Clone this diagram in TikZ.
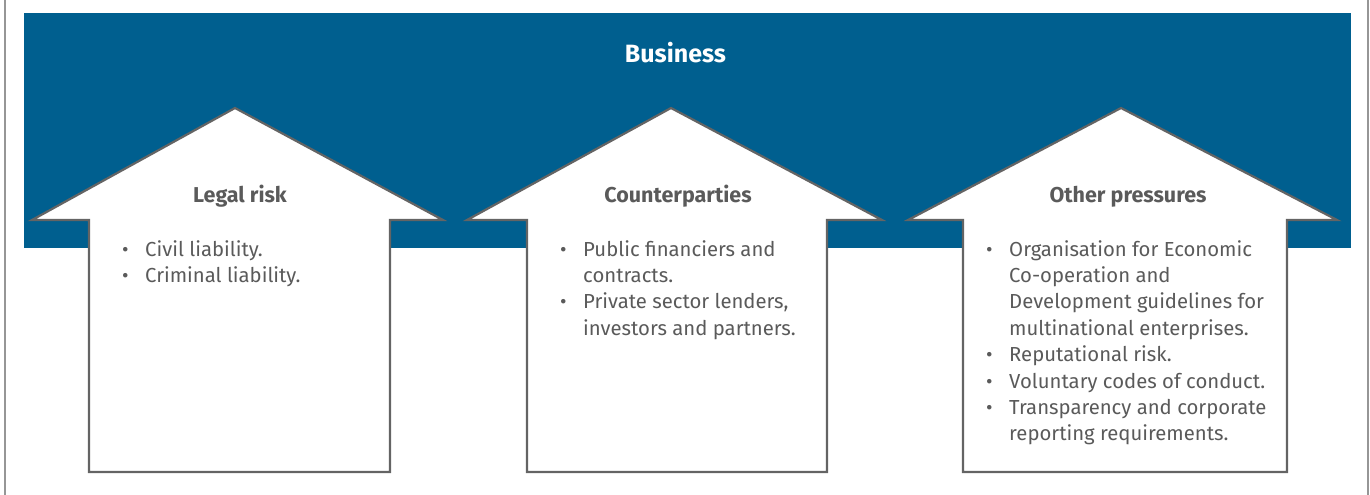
\documentclass[tikz,border=0pt]{standalone}
\usepackage{fontspec}
\setmainfont{Fira Sans}

\definecolor{bizblue}{RGB}{0,95,143}
\definecolor{txtgray}{RGB}{90,90,90}
\definecolor{edgegray}{RGB}{100,100,100}
\definecolor{framegray}{RGB}{150,150,150}

% one bullet entry, hanging under its first word
\newcommand{\bitem}{\par\hangindent=23pt\hangafter=1\noindent
  \makebox[23pt][l]{\fontsize{20}{20}\selectfont\textbullet}}
\newcommand{\bulletlist}[1]{\parbox[t]{310pt}{\raggedright#1}}

\begin{document}
\begin{tikzpicture}[x=1pt,y=-1pt,
    arrowline/.style={draw=edgegray,line width=2.2pt,fill=white},
    titletext/.style={font=\bfseries\fontsize{25}{30}\selectfont,text=white,inner sep=0pt,anchor=base},
    headtext/.style={font=\bfseries\fontsize{21.5}{26}\selectfont,text=txtgray,inner sep=0pt,anchor=base},
    listtext/.style={font=\fontsize{20.3}{26.4}\selectfont,text=txtgray,inner sep=0pt,anchor=base west}]
  \useasboundingbox (0,0) rectangle (1370,495);
  \draw[framegray,line width=1.6pt] (5,0) -- (5,495) (1368,0) -- (1368,495);
  \fill[bizblue] (24,13) rectangle (1351,248);
  \node[titletext] (business) at (675.5,62.5) {Business};
  \foreach \hl/\tip/\hr/\sl/\sr in {32/235/443/89/390, 467/671/882/527/827, 908/1121/1337/963/1287}
    \draw[arrowline] (\hl,220) -- (\tip,108) -- (\hr,220) -- (\sr,220) -- (\sr,472)
      -- (\sl,472) -- (\sl,220) -- cycle;
  \node[headtext] (legal) at (240,202.5) {Legal risk};
  \node[headtext] (counter) at (678,202.5) {Counterparties};
  \node[headtext] (other) at (1128,202.5) {Other pressures};
  \node[listtext] (legal-list) at (122,256) {\bulletlist{%
    \bitem Civil liability.
    \bitem Criminal liability.}};
  \node[listtext] (counter-list) at (560,256) {\bulletlist{%
    \bitem Public financiers and\newline contracts.
    \bitem Private sector lenders,\newline investors and partners.}};
  \node[listtext] (other-list) at (986,256) {\bulletlist{%
    \bitem Organisation for Economic\newline Co-operation and\newline
      Development guidelines for\newline multinational enterprises.
    \bitem Reputational risk.
    \bitem Voluntary codes of conduct.
    \bitem Transparency and corporate\newline reporting requirements.}};
\end{tikzpicture}
\end{document}
